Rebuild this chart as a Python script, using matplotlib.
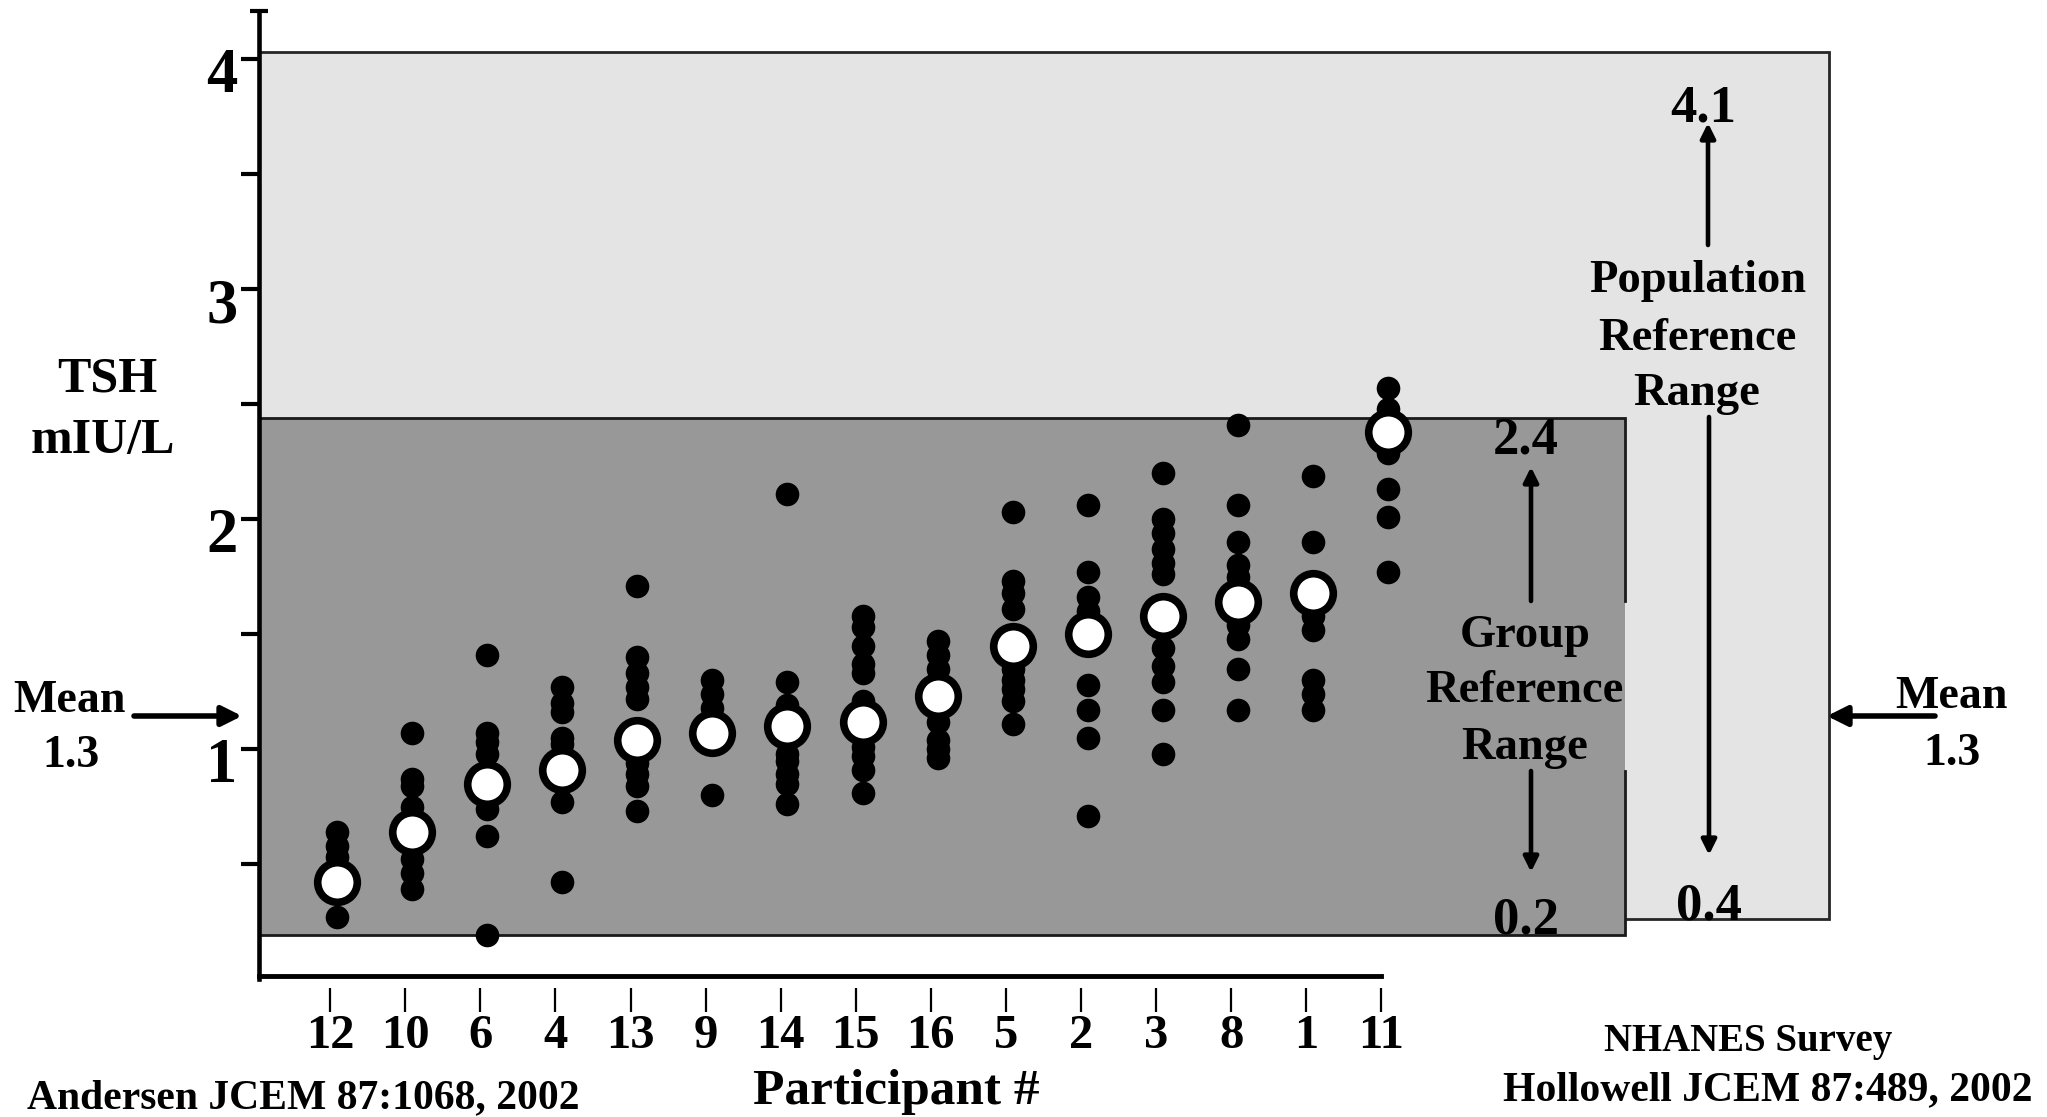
import matplotlib
matplotlib.use("Agg")
import matplotlib.pyplot as plt
import matplotlib.transforms as mtransforms
from matplotlib.patches import Rectangle

# ---------------- data ----------------
participants = ['12', '10', '6', '4', '13', '9', '14', '15', '16', '5', '2', '3', '8', '1', '11']
tsh_values = [
    [0.64, 0.58, 0.53, 0.27],
    [1.07, 0.87, 0.84, 0.75, 0.52, 0.46, 0.39],
    [1.41, 1.07, 1.03, 0.98, 0.74, 0.62, 0.19],
    [1.27, 1.20, 1.16, 1.05, 1.02, 0.77, 0.42],
    [1.71, 1.40, 1.33, 1.27, 1.22, 0.94, 0.89, 0.84, 0.73],
    [1.30, 1.24, 1.18, 0.80],
    [2.11, 1.29, 1.19, 0.98, 0.95, 0.89, 0.85, 0.76],
    [1.58, 1.53, 1.45, 1.37, 1.33, 1.21, 1.01, 0.97, 0.91, 0.81],
    [1.47, 1.41, 1.35, 1.12, 1.04, 1.00, 0.96],
    [2.03, 1.73, 1.68, 1.61, 1.35, 1.30, 1.26, 1.21, 1.11],
    [2.06, 1.77, 1.66, 1.60, 1.28, 1.17, 1.05, 0.71],
    [2.20, 2.00, 1.94, 1.87, 1.81, 1.76, 1.44, 1.36, 1.29, 1.17, 0.98],
    [2.41, 2.06, 1.90, 1.80, 1.75, 1.54, 1.48, 1.35, 1.17],
    [2.19, 1.90, 1.58, 1.52, 1.30, 1.24, 1.17],
    [2.57, 2.48, 2.29, 2.13, 2.01, 1.77],
]
tsh_means = [0.42, 0.64, 0.85, 0.91, 1.04, 1.07, 1.10, 1.12, 1.23, 1.45, 1.50, 1.58, 1.64, 1.68, 2.38]

group_range = (0.19, 2.44)        # drawn extent of the group reference band
population_range = (0.26, 4.03)   # drawn extent of the population reference band
group_labels = ('0.2', '2.4')
population_labels = ('0.4', '4.1')
mean_label = '1.3'
y_ticks = [0.5, 1, 1.5, 2, 2.5, 3, 3.5, 4]
y_tick_labels = ['', '1', '', '2', '', '3', '', '4']

# ---------------- style ----------------
plt.rcParams['font.family'] = ['Liberation Serif', 'DejaVu Serif']
plt.rcParams['font.weight'] = 'bold'

W, H = 2047, 1117
fig = plt.figure(figsize=(W / 100, H / 100), dpi=100)
fig.patch.set_facecolor('white')


def F(x, y):
    return (x / W, 1 - y / H)


x_left, x_right = -0.046, 23.41
ax = fig.add_axes([258.5 / W, (H - 979) / H, (2019.4 - 258.5) / W, 977.1 / H])
ax.set_xlim(x_left, x_right)
ax.set_ylim(0, 4.25)
ax.patch.set_visible(False)

positions = list(range(1, len(participants) + 1))
tick_pos = [p - 0.09 for p in positions]

# reference bands
pop_right, grp_right = 20.87, 18.16
ax.add_patch(Rectangle((x_left, population_range[0]), pop_right - x_left,
                       population_range[1] - population_range[0],
                       facecolor='#e4e4e4', edgecolor='#262626', lw=2, zorder=1))
ax.add_patch(Rectangle((x_left, group_range[0]), grp_right - x_left,
                       group_range[1] - group_range[0],
                       facecolor='#989898', edgecolor='none', zorder=2))
gap_lo, gap_hi = 0.905, 1.644
ax.plot([grp_right, grp_right, x_left, x_left, grp_right, grp_right],
        [gap_lo, group_range[0], group_range[0], group_range[1], group_range[1], gap_hi],
        color='#1a1a1a', lw=2, zorder=2.5, solid_joinstyle='miter')

# individual values and means
for p, vals in zip(positions, tsh_values):
    ax.plot([p] * len(vals), vals, 'o', color='black', ms=17, mew=0, zorder=4, clip_on=False)
ax.plot(positions, tsh_means, 'o', mfc='white', mec='black', ms=28.5, mew=5.5,
        zorder=5, clip_on=False, linestyle='none')

# axes
for s in ('top', 'right'):
    ax.spines[s].set_visible(False)
ax.spines['left'].set_linewidth(3.3)
ax.spines['left'].set_bounds(0.0, 4.21)
ax.spines['left'].set_zorder(6)
ax.spines['bottom'].set_position(('data', 0.012))
ax.spines['bottom'].set_bounds(x_left, 14.91)
ax.spines['bottom'].set_linewidth(3.5)

ax.set_xticks(tick_pos, participants)
ax.tick_params(axis='x', length=0, pad=27, labelsize=35)
ax.vlines(tick_pos, -0.039, -0.143, color='black', lw=1.6, clip_on=False)

ax.set_yticks(y_ticks, y_tick_labels)
ax.tick_params(axis='y', length=13, width=3, pad=2, labelsize=45, direction='out')
off = mtransforms.ScaledTranslation(0, 8 / 72, fig.dpi_scale_trans)
for lab in ax.get_yticklabels():
    lab.set_va('top')
    lab.set_transform(lab.get_transform() + off)
ax.plot([x_left], [4.21], marker='_', ms=13, mew=3, color='black', clip_on=False, zorder=6)

# ---------------- annotations ----------------
def txt(x, y, s, size, ha='center'):
    fig.text(*F(x, y), s, fontsize=size, fontweight='bold', ha=ha, va='baseline',
             family=['Liberation Serif', 'DejaVu Serif'])


def arrow(x0, y0, x1, y1, lw, ms):
    ax.annotate('', xy=F(x1, y1), xytext=F(x0, y0), xycoords='figure fraction',
                textcoords='figure fraction',
                arrowprops=dict(arrowstyle='-|>', color='black', lw=lw,
                                mutation_scale=ms, shrinkA=0, shrinkB=0), zorder=7)


txt(107, 392, 'TSH', 36)
txt(103, 453, 'mIU/L', 36)

txt(70, 712, 'Mean', 33)
txt(71, 767, mean_label, 33)
arrow(134, 716, 242, 716, 4, 30)

txt(1952, 708, 'Mean', 33)
txt(1952, 765, mean_label, 33)
arrow(1935, 716, 1827, 716, 4, 30)

txt(1703, 122, population_labels[1], 38)
arrow(1708, 245, 1708, 123, 3.3, 22)
txt(1698, 292, 'Population', 33.5)
txt(1697, 350, 'Reference', 33.5)
txt(1697, 405, 'Range', 33.5)
arrow(1709, 417, 1709, 855, 3.3, 22)
txt(1709, 919, population_labels[0], 38)

txt(1526, 453, group_labels[1], 38)
arrow(1531, 601, 1531, 467, 3.3, 22)
txt(1525, 647, 'Group', 33.5)
txt(1524, 702, 'Reference', 33.5)
txt(1525, 759, 'Range', 33.5)
arrow(1531, 771, 1531, 872, 3.3, 22)
txt(1526, 934, group_labels[0], 38)

txt(303, 1108, 'Andersen JCEM 87:1068, 2002', 30)
txt(896, 1104, 'Participant #', 37)
txt(1748, 1051, 'NHANES Survey', 28)
txt(1768, 1100, 'Hollowell JCEM 87:489, 2002', 30)

fig.savefig('out.png', dpi=100)
